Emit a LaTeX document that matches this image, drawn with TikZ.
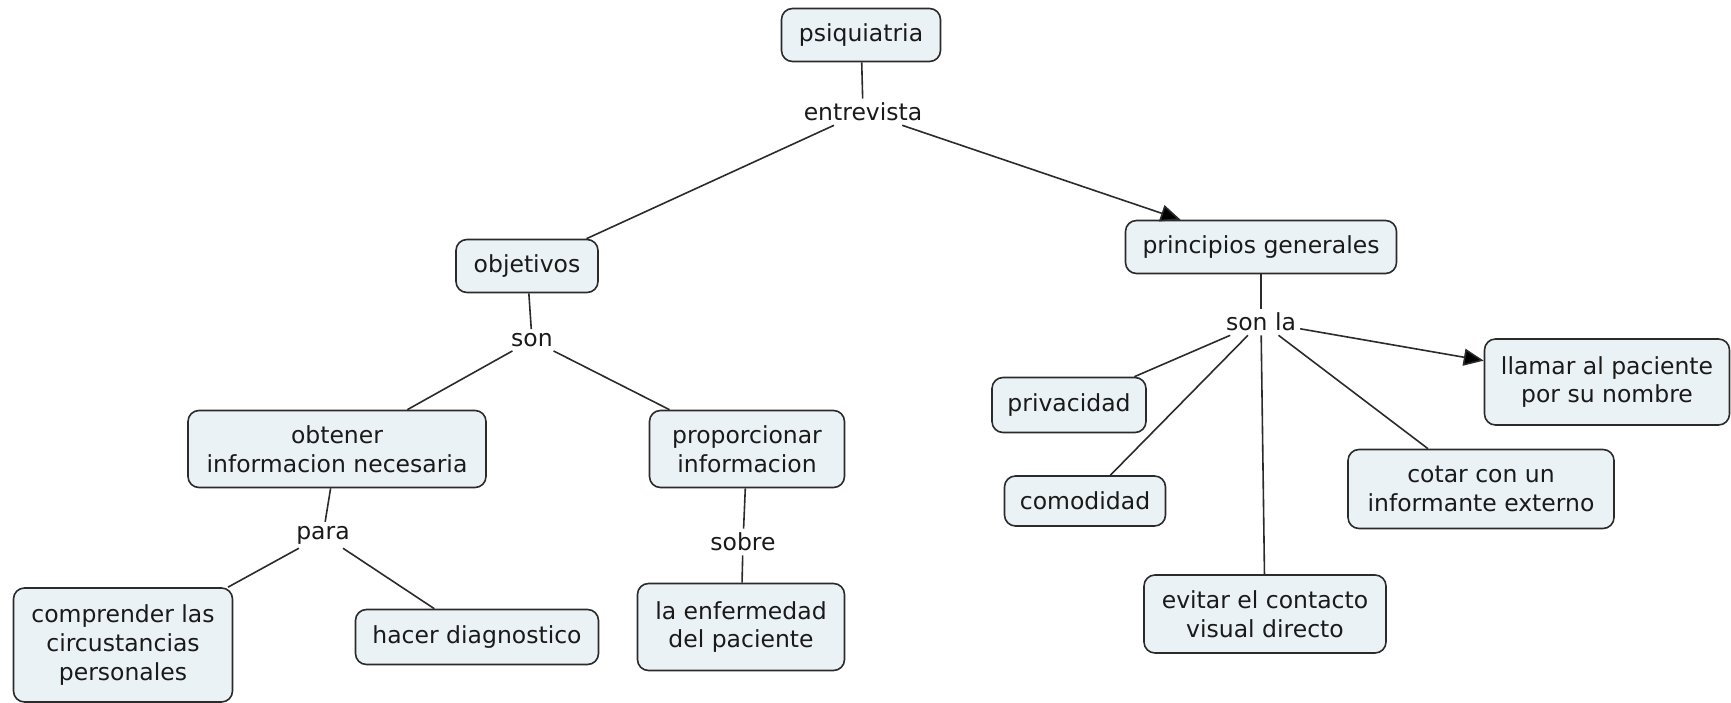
\documentclass[tikz,border=0pt]{standalone}
\usepackage{fontspec}
\setmainfont{DejaVu Sans}
\usetikzlibrary{arrows.meta}
\definecolor{boxfill}{HTML}{EBF2F5}
\definecolor{boxline}{HTML}{2B2B2B}
\definecolor{txt}{HTML}{1A1A1A}
\begin{document}
\begin{tikzpicture}[x=1pt,y=-1pt,
  font=\fontsize{23.5}{28.7}\selectfont, text=txt,
  concept/.style={draw=boxline, fill=boxfill, rounded corners=11pt, line width=1.6pt, align=center, inner sep=0pt},
  linklabel/.style={inner sep=4pt, align=center},
  conn/.style={draw=boxline, line width=1.6pt},
  arr/.style={conn, -{Triangle[length=20pt,width=17pt,fill=black]}}]
\useasboundingbox (0,0) rectangle (1731,703);
% concepts
\node[concept, minimum width=159pt, minimum height=53pt] (psi) at (861,35) {psiquiatria};
\node[concept, minimum width=142pt, minimum height=53pt] (obj) at (527,266) {objetivos};
\node[concept, minimum width=271pt, minimum height=53pt] (pri) at (1261,247) {principios generales};
\node[concept, minimum width=298pt, minimum height=77pt] (obt) at (337,449) {obtener\\informacion necesaria};
\node[concept, minimum width=195pt, minimum height=77pt] (pro) at (747,449) {proporcionar\\informacion};
\node[concept, minimum width=219pt, minimum height=114pt] (com) at (123,645) {comprender las\\circustancias\\personales};
\node[concept, minimum width=243pt, minimum height=55pt] (hac) at (477,637) {hacer diagnostico};
\node[concept, minimum width=207pt, minimum height=87pt] (enf) at (741,627) {la enfermedad\\del paciente};
\node[concept, minimum width=154pt, minimum height=55pt] (pri2) at (1069,405) {privacidad};
\node[concept, minimum width=161pt, minimum height=50pt] (cmd) at (1085,501) {comodidad};
\node[concept, minimum width=242pt, minimum height=78pt] (evi) at (1265,614) {evitar el contacto\\visual directo};
\node[concept, minimum width=266pt, minimum height=79pt] (cot) at (1481,489) {cotar con un\\informante externo};
\node[concept, minimum width=245pt, minimum height=86pt] (lla) at (1607,382) {llamar al paciente\\por su nombre};
% link labels
\node[linklabel] (ent) at (863,112) {entrevista};
\node[linklabel] (son) at (532,340) {son};
\node[linklabel] (sonla) at (1261,322) {son la};
\node[linklabel] (para) at (323,535) {para};
\node[linklabel] (sob) at (743,542) {sobre};
% connectors
\draw[conn] (psi) -- (ent);
\draw[conn] (ent) -- (obj);
\draw[arr] (ent) -- (pri);
\draw[conn] (obj) -- (son);
\draw[conn] (son) -- (obt);
\draw[conn] (son) -- (pro);
\draw[conn] (obt) -- (para);
\draw[conn] (para) -- (com);
\draw[conn] (para) -- (hac);
\draw[conn] (pro) -- (sob);
\draw[conn] (sob) -- (enf);
\draw[conn] (pri) -- (sonla);
\draw[conn] (sonla) -- (pri2);
\draw[conn] (sonla) -- (cmd);
\draw[conn] (sonla) -- (evi);
\draw[conn] (sonla) -- (cot);
\draw[arr] (sonla) -- (lla);
\end{tikzpicture}
\end{document}
